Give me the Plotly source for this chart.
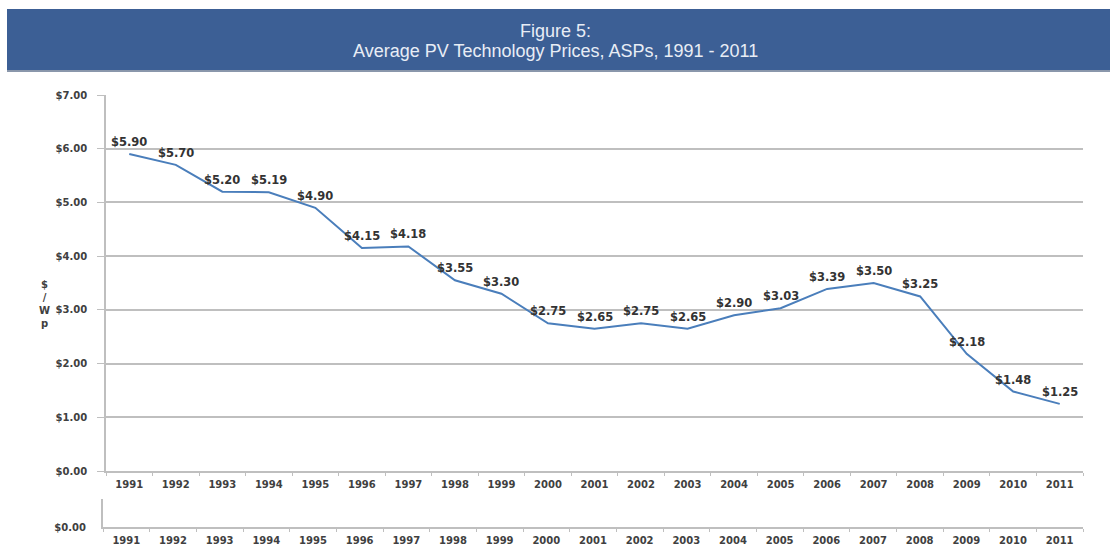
import plotly.graph_objects as go

years = [str(y) for y in range(1991, 2012)]
prices = [5.90, 5.70, 5.20, 5.19, 4.90, 4.15, 4.18, 3.55, 3.30, 2.75, 2.65,
          2.75, 2.65, 2.90, 3.03, 3.39, 3.50, 3.25, 2.18, 1.48, 1.25]
price_labels = ["$%.2f" % p for p in prices]
y_ticks = [0, 1, 2, 3, 4, 5, 6, 7]
y_tick_labels = ["$%.2f" % v for v in y_ticks]
title_line1 = "Figure 5:"
title_line2 = "Average PV Technology Prices, ASPs, 1991 - 2011"
y_title = "$<br>/<br>W<br>p"

W, H = 1110, 551
def px(x): return x / W
def py(y): return 1 - y / H

fig = go.Figure()
fig.add_trace(go.Scatter(
    x=years, y=prices, mode="lines",
    line=dict(color="#4A7EBB", width=2),
    cliponaxis=False, showlegend=False, hoverinfo="x+y",
    xaxis="x", yaxis="y"))
# second (empty) axis strip
fig.add_trace(go.Scatter(
    x=years, y=[0] * len(years), mode="lines", line=dict(width=0),
    showlegend=False, hoverinfo="skip", xaxis="x2", yaxis="y2"))

tickfont = dict(family="DejaVu Sans", size=10, color="#404040", weight="bold")
cat_range = [-0.5, len(years) - 0.5]

# data labels (category index positions on the x axis)
annotations = [
    dict(x=i, y=p, text=lbl, xref="x", yref="y", showarrow=False,
         yshift=12, font=dict(family="DejaVu Sans", size=11.5, color="#333333",
                               weight="bold"))
    for i, (p, lbl) in enumerate(zip(prices, price_labels))
]
annotations += [
    dict(text=title_line1, xref="paper", yref="paper", x=0.5, y=py(31),
         yanchor="middle", showarrow=False,
         font=dict(family="Liberation Sans", size=18, color="#E8EDF5")),
    dict(text=title_line2, xref="paper", yref="paper",
         x=0.5, y=py(51), yanchor="middle", showarrow=False,
         font=dict(family="Liberation Sans", size=18, color="#E8EDF5")),
    dict(text=y_title, xref="paper", yref="paper", x=px(37), y=py(304),
         yanchor="middle", showarrow=False, align="center",
         font=dict(family="DejaVu Sans", size=10, color="#404040", weight="bold")),
]

fig.update_layout(
    width=W, height=H, margin=dict(l=0, r=0, t=0, b=0, autoexpand=False),
    paper_bgcolor="white", plot_bgcolor="white",
    xaxis=dict(domain=[px(106), px(1083)], type="category", range=cat_range,
               automargin=False,
               showline=True, linecolor="#BFBFBF", linewidth=1.5,
               showgrid=False, ticks="outside", tickson="boundaries",
               ticklen=3, tickcolor="#BFBFBF", tickfont=tickfont,
               ticklabelstandoff=3),
    yaxis=dict(domain=[py(471), py(95)], range=[0, 7], automargin=False,
               tickvals=y_ticks, ticktext=y_tick_labels,
               showline=True, linecolor="#BFBFBF", linewidth=1.5,
               gridcolor="#BFBFBF", gridwidth=1.5, zeroline=False,
               ticks="outside", ticklen=7, tickcolor="#BFBFBF",
               tickfont=tickfont, ticklabelstandoff=8),
    xaxis2=dict(domain=[px(103), px(1083)], type="category", anchor="y2",
                range=cat_range, automargin=False,
                showline=True, linecolor="#BFBFBF", linewidth=1.5,
                showgrid=False, ticks="outside", tickson="boundaries",
                ticklen=3, tickcolor="#BFBFBF", tickfont=tickfont,
                ticklabelstandoff=3),
    yaxis2=dict(domain=[py(527), py(499)], range=[0, 1], anchor="x2",
                automargin=False,
                tickvals=[0], ticktext=["$0.00"],
                showline=True, linecolor="#BFBFBF", linewidth=2,
                showgrid=False, zeroline=False, ticks="",
                tickfont=tickfont, ticklabelstandoff=13),
    shapes=[
        dict(type="rect", xref="paper", yref="paper",
             x0=px(7), x1=1, y0=py(70), y1=py(9),
             fillcolor="#3C5F95", line=dict(width=0), layer="below"),
        dict(type="rect", xref="paper", yref="paper",
             x0=px(7), x1=1, y0=py(72), y1=py(70),
             fillcolor="#8A97AB", line=dict(width=0), layer="below"),
    ],
    annotations=annotations,
)

fig.write_html("out.html", config={"displayModeBar": False},
               post_script="document.body.style.margin='0';document.body.style.overflow='hidden';")
